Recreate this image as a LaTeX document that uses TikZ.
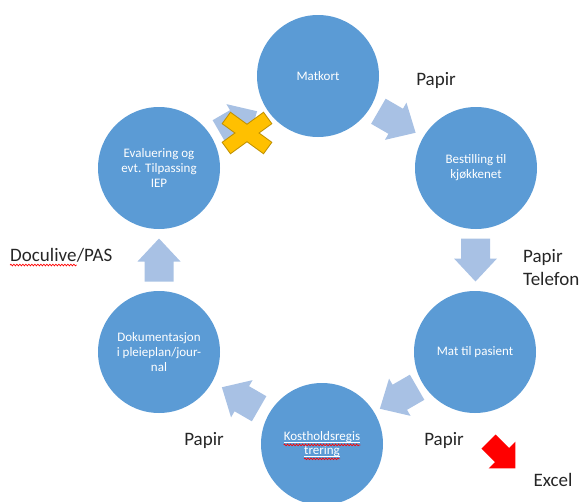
\documentclass[tikz,border=0pt]{standalone}
\usepackage{fontspec}
\setmainfont{Carlito}
\usetikzlibrary{calc,decorations.pathmorphing}
\definecolor{cblue}{RGB}{91,155,213}
\definecolor{ablue}{RGB}{168,193,228}
\definecolor{xgold}{RGB}{255,192,0}
\definecolor{xedge}{RGB}{191,144,0}
\definecolor{lblc}{RGB}{38,38,38}
\tikzset{
  stage/.style={circle,fill=cblue,minimum size=122pt,inner sep=0pt,text=white,align=center,font=\fontsize{13}{15}\selectfont},
  ctext/.style={text=white,inner sep=0pt,font=\fontsize{13}{15}\selectfont},
  lbl/.style={text=lblc,inner sep=0pt,font=\fontsize{19}{23}\selectfont,align=left},
  wavy/.style={draw=red,line width=0.7pt,decorate,decoration={snake,amplitude=0.8pt,segment length=3pt}},
  blockarrow/.pic={\fill[ablue] (-21.5,-14.5) -- (-1.5,-14.5) -- (-1.5,-21.5) -- (21.5,0) -- (-1.5,21.5) -- (-1.5,14.5) -- (-21.5,14.5) -- cycle;},
  redarrow/.pic={\fill[red] (-19,-10) -- (0,-10) -- (0,-19) -- (19,0) -- (0,19) -- (0,10) -- (-19,10) -- cycle;}
}
\begin{document}
\begin{tikzpicture}[x=1pt,y=1pt]
\useasboundingbox (0,0) rectangle (584,-501);
\clip (0,0) rectangle (584,-501);
% stages
\node[stage] (mat) at (318,-76) {Matkort};
\node[stage] (best) at (476,-168) {Bestilling til\\kjøkkenet};
\node[stage] (pas) at (475,-352) {Mat til pasient};
\node[stage] (kost) at (322,-444) {};
\node[stage] (dok) at (159,-352) {Dokumentasjon\\i pleieplan/jour-\\nal};
\node[stage] (eval) at (159,-168) {Evaluering og\\evt. Tilpassing\\IEP};
% kost text
\node[ctext] (k1) at ([yshift=6.5]kost.center) {Kostholdsregis};
\node[ctext] (k2) at ([yshift=-7.5]kost.center) {trering};
\draw[white,line width=0.6pt] ([yshift=-1.8]k1.base west) -- ([yshift=-1.8]k1.base east);
\draw[white,line width=0.6pt] ([yshift=-1.8]k2.base west) -- ([yshift=-1.8]k2.base east);
\draw[wavy] ([yshift=-4]k1.base west) -- ([yshift=-4]k1.base east);
\draw[wavy] ([yshift=-4]k2.base west) -- ([yshift=-4]k2.base east);
% cycle arrows
\path ($(mat.center)!0.5!(best.center)$) pic[rotate=-30] {blockarrow};
\path ($(best.center)!0.5!(pas.center)$) pic[rotate=-90] {blockarrow};
\path ($(pas.center)!0.5!(kost.center)$) pic[rotate=-150] {blockarrow};
\path ($(kost.center)!0.5!(dok.center)$) pic[rotate=150] {blockarrow};
\path ($(dok.center)!0.5!(eval.center)$) pic[rotate=90] {blockarrow};
\path ($(eval.center)!0.5!(mat.center)$) pic[rotate=30] {blockarrow};
% cross
\coordinate (xc) at (247,-133);
\begin{scope}[shift={(xc)}]
  \foreach \a in {36,-36} \draw[xedge,line width=2pt,rotate=\a] (-25,-6.5) rectangle (25,6.5);
  \foreach \a in {36,-36} \fill[xgold,rotate=\a] (-25,-6.5) rectangle (25,6.5);
\end{scope}
% red arrow
\coordinate (ra) at (502,-455);
\path (ra) pic[rotate=-45] {redarrow};
% labels
\node[lbl] (p1) at (436,-80) {Papir};
\node[lbl,anchor=west] (p2) at (523,-268) {Papir\\Telefon};
\node[lbl] (p3) at (204,-440) {Papir};
\node[lbl] (p4) at (444,-440) {Papir};
\node[lbl] (ex) at (553,-480) {Excel};
\node[lbl,anchor=west] (dl) at (10,-255) {Doculive};
\node[lbl,anchor=base west] (dl2) at (dl.base east) {/PAS};
\draw[wavy] ([yshift=-3.5]dl.base west) -- ([yshift=-3.5]dl.base east);
\end{tikzpicture}
\end{document}
